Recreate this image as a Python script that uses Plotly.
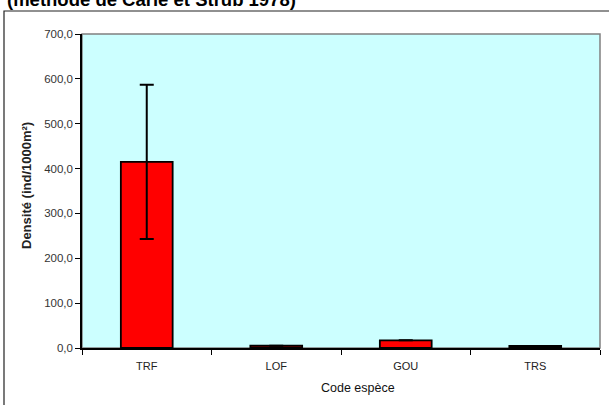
import plotly.graph_objects as go

categories = ["TRF", "LOF", "GOU", "TRS"]
densities = [415.0, 5.0, 17.0, 4.5]
errors = [172.0, None, None, None]
y_ticks = [0, 100, 200, 300, 400, 500, 600, 700]
y_tick_labels = ["0,0", "100,0", "200,0", "300,0", "400,0", "500,0", "600,0", "700,0"]

W, H = 609, 405
L, R, T, B = 82, 600, 34, 348

fig = go.Figure()
fig.add_trace(go.Bar(
    x=categories, y=densities,
    width=0.4,
    marker=dict(color="#FF0000", line=dict(color="black", width=1.8)),
    error_y=dict(type="data", array=errors, visible=True, color="black", thickness=2, width=7),
    showlegend=False,
))

def px(x):
    return (x - L) / (R - L)

def py(y):
    return (B - y) / (B - T)

# outer chart border (only left/top visible)
fig.add_shape(type="rect", xref="paper", yref="paper",
              x0=px(4), x1=px(700), y0=py(500), y1=py(11),
              line=dict(color="#222222", width=1.2), fillcolor="rgba(0,0,0,0)", layer="below")
# plot area border (gray)
fig.add_shape(type="rect", xref="paper", yref="paper",
              x0=0, x1=1, y0=0, y1=1,
              line=dict(color="#808080", width=1.5), fillcolor="rgba(0,0,0,0)", layer="below")

fig.add_annotation(text="<b>(méthode de Carle et Strub 1978)</b>", xref="paper", yref="paper",
                   x=px(5), y=py(-0.5), xanchor="left", yanchor="middle", showarrow=False,
                   font=dict(family="Liberation Sans, Arial", size=18.5, color="black"))

# axis titles
fig.add_annotation(text="<b>Densité (ind/1000m²)</b>", xref="paper", yref="paper",
                   x=px(26), y=py(186), xanchor="center", yanchor="middle", textangle=-90,
                   showarrow=False,
                   font=dict(family="Liberation Sans, Arial", size=13, color="#222222"))
fig.add_annotation(text="Code espèce", xref="paper", yref="paper",
                   x=px(358), y=py(388), xanchor="center", yanchor="middle",
                   showarrow=False,
                   font=dict(family="Liberation Sans, Arial", size=12.5, color="#111111"))

fig.update_layout(
    width=W, height=H,
    margin=dict(l=L, r=W - R, t=T, b=H - B, autoexpand=False),
    paper_bgcolor="white",
    plot_bgcolor="#CCFFFF",
    font=dict(family="Liberation Sans, Arial", size=11, color="#333333"),
    bargap=0.6,
    xaxis=dict(
        automargin=False,
        showline=True, linecolor="black", linewidth=1.5,
        ticks="outside", ticklen=5, tickcolor="black", tickwidth=1.2,
        tickson="boundaries",
        ticklabelstandoff=7,
        showgrid=False, zeroline=False,
        tickfont=dict(size=11, color="#222222"),
    ),
    yaxis=dict(
        automargin=False,
        range=[0, 700],
        tickvals=y_ticks, ticktext=y_tick_labels,
        showline=True, linecolor="black", linewidth=1.5,
        ticks="outside", ticklen=5, tickcolor="black", tickwidth=1.2,
        showgrid=False, zeroline=False,
        tickfont=dict(size=11.5, color="#333333"),
    ),
)

fig.write_html("out.html", config={"displayModeBar": False},
               post_script="document.body.style.margin='0px';document.body.style.padding='0px';")
